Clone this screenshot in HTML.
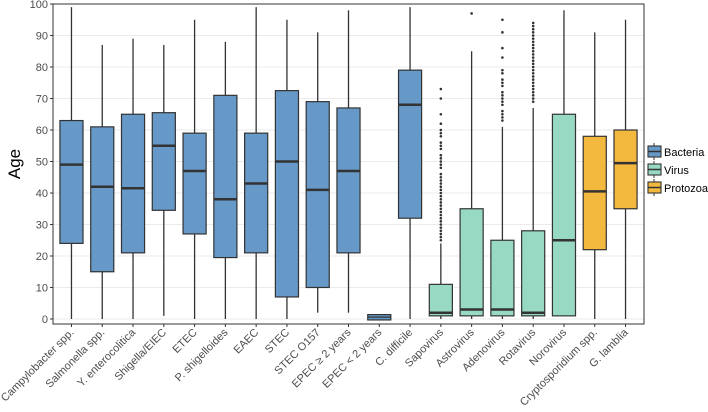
<!DOCTYPE html>
<html><head><meta charset="utf-8"><style>
body{margin:0;background:#fff;}
svg{display:block;font-family:"Liberation Sans",sans-serif;}
</style></head><body>
<svg id="chart" width="708" height="412" viewBox="0 0 708 412"></svg>
<script>
const categories=["Campylobacter spp.","Salmonella spp.","Y. enterocolitica","Shigella/EIEC","ETEC","P. shigelloides","EAEC","STEC","STEC O157","EPEC \u2265 2 years","EPEC < 2 years","C. difficile","Sapovirus","Astrovirus","Adenovirus","Rotavirus","Norovirus","Cryptosporidium spp.","G. lamblia"];
const groups=["Bacteria","Bacteria","Bacteria","Bacteria","Bacteria","Bacteria","Bacteria","Bacteria","Bacteria","Bacteria","Bacteria","Bacteria","Virus","Virus","Virus","Virus","Virus","Protozoa","Protozoa"];
const lowW=[0,0,0,1,0,0,0,0,2,2,0,0,0,0,0,0,1,0,0];
const q1=[24,15,21,34.5,27,19.5,21,7,10,21,-0.3,32,1,1,1,1,1,22,35];
const med=[49,42,41.5,55,47,38,43,50,41,47,0.6,68,2,3,3,2,25,40.5,49.5];
const q3=[63,61,65,65.5,59,71,59,72.5,69,67,1.4,79,11,35,25,28,65,58,60];
const highW=[99,87,89,87,95,88,99,95,91,98,1.4,99,24,85,61,67,98,91,95];
const sapoOut=[25,26,27,28,29,30,31,32,33,34,35,36,37,38,39,40,41,42,43,44,45,46,48,49,50,51,52,54,55,56,58,59,60,62,65,70,73];
const astroOut=[97];
const adenoOut=[63,64,65,66,68,69,70,71,72,74,75,76,78,79,83,86,91,95];
const rotaOut=[69,70,71,72,73,74,75,76,77,78,79,80,81,82,83,84,85,86,87,88,89,90,91,92,93,94];
const outliers={12:sapoOut,13:astroOut,14:adenoOut,15:rotaOut};
const yTicks=[0,10,20,30,40,50,60,70,80,90,100];
const legendItems=["Bacteria","Virus","Protozoa"];
const colors={Bacteria:"#6699c8",Virus:"#98d9c4",Protozoa:"#f3b93f"};

const svg=document.getElementById('chart');
const NS="http://www.w3.org/2000/svg";
const L=53,R=644,T=4,B=324;
const y0=319,y100=4;
const y=v=>y0-(v/100)*(y0-y100);
const step=(R-L)/(categories.length+0.2);
const x=i=>L+step*(0.6+i);
function mk(tag,attrs,parent){const e=document.createElementNS(NS,tag);for(const k in attrs)e.setAttribute(k,attrs[k]);(parent||svg).appendChild(e);return e;}

const panel=mk('rect',{x:L,y:T,width:R-L,height:B-T,fill:'#fff'});


yTicks.forEach(t=>{
  const g=mk('line',{x1:L,x2:R,y1:y(t),y2:y(t),stroke:'#ebebeb','stroke-width':1});
  
  
  const tk=mk('line',{x1:L-3,x2:L,y1:y(t),y2:y(t),stroke:'#333'});
  
  
  const tl=mk('text',{x:L-5,y:y(t)+4,'text-anchor':'end','font-size':11,fill:'#4d4d4d'});
  tl.textContent=t;
  
  
});
categories.forEach((c,i)=>{
  const cx=x(i),w=step*0.75;
  const g=mk('g',{});
  
  
  mk('line',{x1:cx,x2:cx,y1:y(highW[i]),y2:y(q3[i]),stroke:'#333','stroke-width':1.3},g);
  mk('line',{x1:cx,x2:cx,y1:y(q1[i]),y2:y(lowW[i]),stroke:'#333','stroke-width':1.3},g);
  const small=(y(q1[i])-y(q3[i]))<8;
  mk('rect',{x:cx-w/2,y:y(q3[i]),width:w,height:Math.max(y(q1[i])-y(q3[i]),1),fill:colors[groups[i]],stroke:'#333','stroke-width':1.2},g);
  mk('line',{x1:cx-w/2,x2:cx+w/2,y1:y(med[i]),y2:y(med[i]),stroke:'#333','stroke-width':small?1.2:2.5},g);
  (outliers[i]||[]).forEach(v=>{
    const p=mk('circle',{cx:cx,cy:y(v),r:1.3,fill:'#333'},g);
    
    
  });
  const tk=mk('line',{x1:cx,x2:cx,y1:B,y2:B+3,stroke:'#333'});
  
  
  const tl=mk('text',{x:cx+3,y:B+9,'text-anchor':'end','font-size':11,fill:'#4d4d4d',transform:`rotate(-45 ${cx+3} ${B+9})`});
  tl.textContent=c;
  
  
});
const fr=mk('rect',{x:L,y:T,width:R-L,height:B-T,fill:'none',stroke:'#333','stroke-width':1});


const yt=mk('text',{x:20,y:164,'text-anchor':'middle','font-size':17,fill:'#000',transform:'rotate(-90 20 164)'});
yt.textContent='Age';


legendItems.forEach((n,k)=>{
  const ly=145+k*18;
  const g=mk('g',{});
  
  
  mk('line',{x1:654,x2:654,y1:ly-2,y2:ly+15,stroke:'#333'},g);
  mk('rect',{x:648,y:ly+1,width:13,height:11,fill:colors[n],stroke:'#333','stroke-width':1.1},g);
  mk('line',{x1:648,x2:661,y1:ly+6.5,y2:ly+6.5,stroke:'#333','stroke-width':1.5},g);
  const t=mk('text',{x:664,y:ly+11,'font-size':11,fill:'#000'},g);
  t.textContent=n;
});
</script>
</body></html>
